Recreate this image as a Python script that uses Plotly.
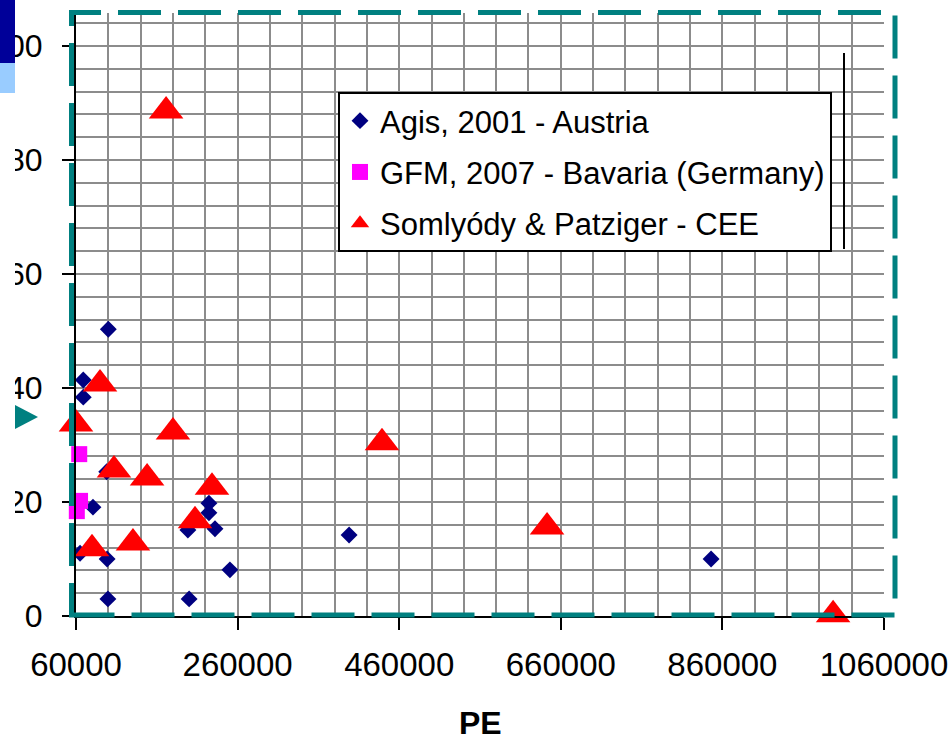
import plotly.graph_objects as go

# Agis, 2001 - Austria
agis_pe = [100000, 69000, 69000, 98000, 81000, 65000, 98500, 99500,
           198500, 200000, 224500, 224500, 232000, 250500, 398000, 846000]
agis_val = [50.3, 41.4, 38.4, 25.3, 19.1, 11.0, 10.0, 3.0,
            15.1, 3.0, 19.8, 18.1, 15.3, 8.1, 14.2, 10.0]

# GFM, 2007 - Bavaria (Germany)
gfm_pe = [57500, 64000, 65000, 61000]
gfm_val = [40.1, 28.4, 20.2, 18.4]

# Somlyódy & Patziger - CEE
sp_pe = [171500, 89700, 60000, 180000, 107000, 148000, 228300,
         207300, 130500, 79800, 438700, 643000, 997000]
sp_val = [88.6, 40.7, 33.7, 32.3, 25.6, 24.2, 22.6,
          16.7, 12.8, 11.8, 30.4, 15.6, 0.2]

x_ticks = [60000, 260000, 460000, 660000, 860000, 1060000]
y_ticks = [0, 20, 40, 60, 80, 100]

W, H = 952, 743
ML, MR, MT, MB = 76, 68, 13, 127
FONT = "Liberation Sans, Arial, sans-serif"
GRID = "#8c8c8c"
TEAL = "#008080"


def px_x(p):
    """pixel column -> paper x"""
    return (p - ML) / (W - ML - MR)


def px_y(p):
    """pixel row -> paper y"""
    return (H - MB - p) / (H - MT - MB)


fig = go.Figure()
fig.add_trace(go.Scatter(
    x=agis_pe, y=agis_val, mode="markers", name="Agis, 2001 - Austria",
    legendgroup="a", cliponaxis=False,
    marker=dict(symbol="diamond", size=13, color="#000080"),
))
fig.add_trace(go.Scatter(
    x=gfm_pe, y=gfm_val, mode="markers", name="GFM, 2007 - Bavaria (Germany)",
    legendgroup="b", cliponaxis=False,
    marker=dict(symbol="square", size=16, color="#FF00FF"),
))
fig.add_trace(go.Scatter(
    x=sp_pe, y=sp_val, mode="markers", name="Somlyódy & Patziger - CEE",
    legendgroup="c", cliponaxis=False,
    marker=dict(symbol="triangle-up", size=30, color="#FF0000"),
))

shapes = [
    # dashed plot-area border
    dict(type="rect", xref="paper", yref="paper", layer="above",
         x0=px_x(71.5), x1=px_x(895), y0=px_y(615), y1=px_y(12.5),
         line=dict(color=TEAL, width=5, dash="43px,17px")),
    # thin rule beside the legend
    dict(type="line", xref="paper", yref="paper", layer="above",
         x0=px_x(844), x1=px_x(844), y0=px_y(53), y1=px_y(249),
         line=dict(color="black", width=2)),
    # left strip of the slide
    dict(type="rect", xref="paper", yref="paper", layer="above",
         x0=px_x(-2), x1=px_x(15), y0=px_y(745), y1=px_y(93),
         fillcolor="white", line=dict(width=0)),
    dict(type="rect", xref="paper", yref="paper", layer="above",
         x0=px_x(-2), x1=px_x(15), y0=px_y(63), y1=px_y(-2),
         fillcolor="#000099", line=dict(width=0)),
    dict(type="rect", xref="paper", yref="paper", layer="above",
         x0=px_x(-2), x1=px_x(15), y0=px_y(93), y1=px_y(63),
         fillcolor="#99CCFF", line=dict(width=0)),
    dict(type="path", xref="paper", yref="paper", layer="above",
         path=(f"M {px_x(15)},{px_y(405)} L {px_x(38)},{px_y(417)} "
               f"L {px_x(15)},{px_y(429)} Z"),
         fillcolor=TEAL, line=dict(width=0)),
]

fig.update_layout(
    width=W, height=H,
    margin=dict(l=ML, r=MR, t=MT, b=MB, pad=0, autoexpand=False),
    paper_bgcolor="white", plot_bgcolor="white",
    font=dict(family=FONT, color="black"),
    showlegend=True,
    legend=dict(
        x=px_x(338), y=px_y(92), xanchor="left", yanchor="top",
        bgcolor="white", bordercolor="black", borderwidth=2,
        font=dict(family=FONT, size=31, color="black"),
        tracegroupgap=8,
    ),
    shapes=shapes,
    annotations=[
        # x-axis title
        dict(text="<b>PE</b>", xref="paper", yref="paper",
             x=0.5, y=px_y(743), xanchor="center", yanchor="bottom",
             showarrow=False,
             font=dict(family=FONT, size=32, color="black")),
    ],
)

fig.update_xaxes(
    range=[60000, 1060000], automargin=False,
    tickvals=x_ticks, ticktext=[str(v) for v in x_ticks],
    ticks="outside", ticklen=12, tickwidth=2, tickcolor="black",
    ticklabelstandoff=6,
    tickfont=dict(family=FONT, size=33, color="black"),
    showline=True, linecolor="black", linewidth=2,
    showgrid=True, gridcolor=GRID, gridwidth=2,
    minor=dict(tick0=60000, dtick=40000, showgrid=True,
               gridcolor=GRID, gridwidth=2, ticks=""),
    zeroline=False,
)

fig.update_yaxes(
    range=[0, 105.8], automargin=False,
    tickvals=y_ticks, ticktext=[str(v) for v in y_ticks],
    ticks="outside", ticklen=12, tickwidth=2, tickcolor="black",
    ticklabelstandoff=13,
    tickfont=dict(family=FONT, size=32, color="black"),
    showline=True, linecolor="black", linewidth=2,
    showgrid=True, gridcolor=GRID, gridwidth=2,
    minor=dict(tick0=0, dtick=4, showgrid=True,
               gridcolor=GRID, gridwidth=2, ticks=""),
    zeroline=False,
)

fig.write_html("out.html")
